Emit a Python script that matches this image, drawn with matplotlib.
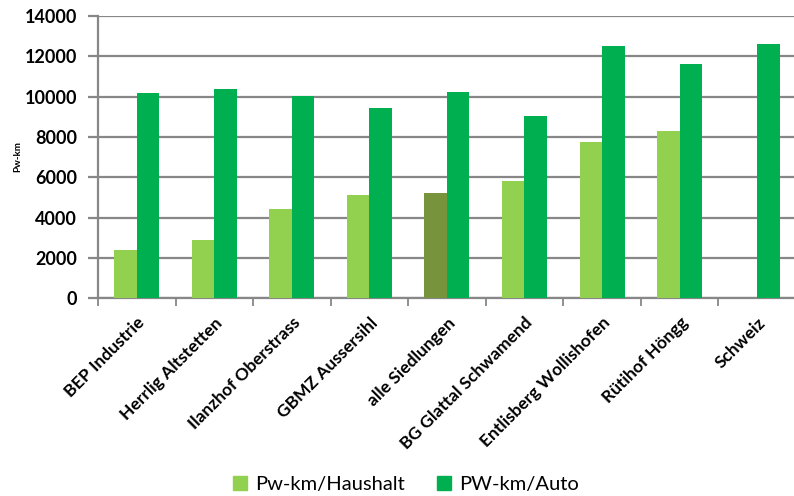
import numpy as np
import matplotlib
matplotlib.use("Agg")
import matplotlib.pyplot as plt
from matplotlib.patches import Patch

plt.rcParams['font.family'] = ['Lato', 'DejaVu Sans']

siedlungen = ["BEP Industrie", "Herrlig Altstetten", "Ilanzhof Oberstrass",
              "GBMZ Aussersihl", "alle Siedlungen", "BG Glattal Schwamend",
              "Entlisberg Wollishofen", "Rütihof Höngg", "Schweiz"]
pw_haushalt = [2380, 2880, 4400, 5110, 5210, 5810, 7740, 8290, np.nan]
pw_auto = [10180, 10360, 10010, 9430, 10230, 9040, 12510, 11620, 12610]

hell = "#92D050"
dunkel = "#00B050"
oliv = "#77933C"
grau = "#878787"

fig = plt.figure(figsize=(7.94, 4.96), dpi=100)
ax = fig.add_axes([0.1234, 0.399, 0.8790, 0.5687])

x = np.arange(len(siedlungen))
b = 0.29
farben_haushalt = [oliv if s == "alle Siedlungen" else hell for s in siedlungen]
ax.bar(x - b / 2, pw_haushalt, width=b, color=farben_haushalt, zorder=3)
ax.bar(x + b / 2, pw_auto, width=b, color=dunkel, zorder=3)

ax.set_xlim(-0.5, len(siedlungen) - 0.5)
ax.set_ylim(0, 14000)
ax.set_yticks(np.arange(0, 14001, 2000))
ax.yaxis.grid(True, color=grau, linewidth=1.6, zorder=0)
ax.set_axisbelow(True)

for s in ["top", "right"]:
    ax.spines[s].set_visible(False)
ax.spines["left"].set_color(grau)
ax.spines["left"].set_linewidth(1.6)
ax.spines["bottom"].set_color(grau)
ax.spines["bottom"].set_linewidth(1.6)

ax.tick_params(axis="y", length=7, width=1.6, color=grau, pad=8,
               labelsize=13)
for lbl in ax.get_yticklabels():
    lbl.set_fontweight("bold")

ax.set_xticks(x)
ax.set_xticklabels(siedlungen, rotation=45, ha="right", va="top",
                   rotation_mode="anchor", fontsize=12.5, fontweight="bold")
ax.tick_params(axis="x", length=0, pad=12)
ax.set_xticks(np.arange(-0.5, len(siedlungen), 1), minor=True)
ax.tick_params(axis="x", which="minor", length=6, width=1.3, color=grau)

ax.set_ylabel("Pw-km", fontsize=7, fontweight="bold", labelpad=2)

handles = [Patch(color=hell, label="Pw-km/Haushalt"),
           Patch(color=dunkel, label="PW-km/Auto")]
fig.legend(handles=handles, loc="center", bbox_to_anchor=(0.511, 0.024),
           ncol=2, frameon=False, fontsize=14.5, handlelength=0.7,
           handleheight=0.7, handletextpad=0.4, columnspacing=1.6)

fig.savefig("out.png", dpi=100)
